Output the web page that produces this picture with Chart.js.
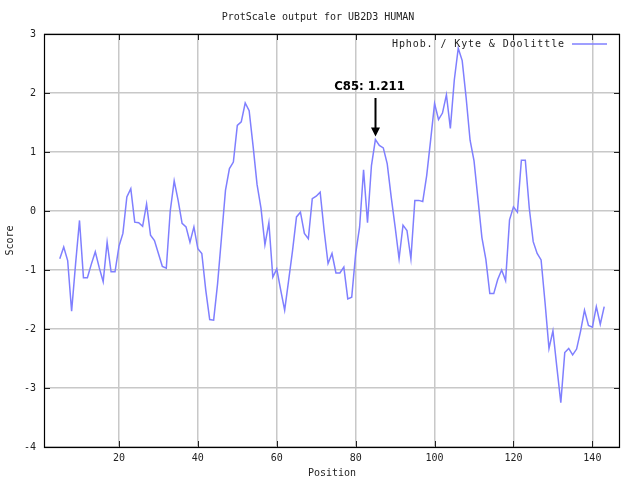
<!DOCTYPE html>
<html>
<head>
<meta charset="utf-8">
<title>ProtScale output for UB2D3 HUMAN</title>
<script src="https://cdn.jsdelivr.net/npm/chart.js@4/dist/chart.umd.min.js"></script>
<style>
  body { margin: 0; background: #fff; }
  canvas { display: block; }
</style>
</head>
<body>
<canvas id="myChart" width="639" height="483"></canvas>
<script>
const positions = [
  5, 6, 7, 8, 9, 10, 11, 12, 13, 14, 15, 16, 17, 18, 19, 20, 21, 22, 23, 24,
  25, 26, 27, 28, 29, 30, 31, 32, 33, 34, 35, 36, 37, 38, 39, 40, 41, 42, 43, 44,
  45, 46, 47, 48, 49, 50, 51, 52, 53, 54, 55, 56, 57, 58, 59, 60, 61, 62, 63, 64,
  65, 66, 67, 68, 69, 70, 71, 72, 73, 74, 75, 76, 77, 78, 79, 80, 81, 82, 83, 84,
  85, 86, 87, 88, 89, 90, 91, 92, 93, 94, 95, 96, 97, 98, 99, 100, 101, 102, 103, 104,
  105, 106, 107, 108, 109, 110, 111, 112, 113, 114, 115, 116, 117, 118, 119, 120, 121, 122, 123, 124,
  125, 126, 127, 128, 129, 130, 131, 132, 133, 134, 135, 136, 137, 138, 139, 140, 141, 142, 143
]

const scores = [
  -0.81, -0.61, -0.84, -1.70, -0.90, -0.16, -1.13, -1.13, -0.90, -0.69,
  -0.96, -1.20, -0.53, -1.03, -1.03, -0.60, -0.38, 0.24, 0.38, -0.19,
  -0.20, -0.26, 0.12, -0.41, -0.50, -0.72, -0.94, -0.97, 0.00, 0.51,
  0.18, -0.21, -0.27, -0.53, -0.27, -0.64, -0.72, -1.34, -1.84, -1.85,
  -1.23, -0.44, 0.35, 0.72, 0.83, 1.45, 1.51, 1.83, 1.70, 1.10,
  0.45, 0.05, -0.57, -0.20, -1.12, -0.98, -1.34, -1.68, -1.18, -0.67,
  -0.10, -0.02, -0.38, -0.47, 0.21, 0.25, 0.32, -0.33, -0.89, -0.72,
  -1.05, -1.05, -0.95, -1.49, -1.46, -0.72, -0.27, 0.70, -0.20, 0.77,
  1.211, 1.11, 1.07, 0.80, 0.24, -0.27, -0.81, -0.24, -0.33, -0.81,
  0.18, 0.18, 0.16, 0.60, 1.20, 1.82, 1.55, 1.66, 1.97, 1.40,
  2.22, 2.76, 2.55, 1.92, 1.20, 0.85, 0.20, -0.45, -0.82, -1.40,
  -1.40, -1.16, -1.00, -1.18, -0.15, 0.07, -0.02, 0.86, 0.86, 0.05,
  -0.52, -0.72, -0.83, -1.55, -2.33, -2.03, -2.65, -3.25, -2.40, -2.33,
  -2.44, -2.34, -2.04, -1.68, -1.94, -1.97, -1.62, -1.92, -1.62
]

const xTicks = [20, 40, 60, 80, 100, 120, 140]
const yTicks = [-4, -3, -2, -1, 0, 1, 2, 3]

const seriesName = 'Hphob. / Kyte & Doolittle'
const chartTitle = 'ProtScale output for UB2D3 HUMAN'
const markPosition = 85
const markLabel = 'C85: 1.211'

const monoFont = '"DejaVu Sans Mono", "Liberation Mono", monospace'
const lineColor = '#7f7fff'

// title, legend, inward ticks, frame and the C85 arrow
const overlay = {
  id: 'overlay',
  afterDraw(chart) {
    const ctx = chart.ctx
    const a = chart.chartArea
    const x = chart.scales.x
    const y = chart.scales.y
    ctx.save()

    ctx.strokeStyle = '#222'
    ctx.lineWidth = 1
    ctx.beginPath()
    xTicks.forEach(v => {
      let px = Math.round(x.getPixelForValue(v)) + 0.5
      ctx.moveTo(px, a.bottom); ctx.lineTo(px, a.bottom - 6)
      ctx.moveTo(px, a.top); ctx.lineTo(px, a.top + 6)
    })
    yTicks.forEach(v => {
      let py = Math.round(y.getPixelForValue(v)) + 0.5
      ctx.moveTo(a.left, py); ctx.lineTo(a.left + 6, py)
      ctx.moveTo(a.right, py); ctx.lineTo(a.right - 6, py)
    })
    ctx.stroke()

    ctx.strokeStyle = '#000'
    ctx.lineWidth = 1.2
    ctx.strokeRect(Math.round(a.left) + 0.5, Math.round(a.top) + 0.5,
      Math.round(a.right - a.left) - 1, Math.round(a.bottom - a.top))

    ctx.fillStyle = '#222'
    ctx.font = '10px ' + monoFont
    ctx.textAlign = 'center'
    ctx.textBaseline = 'middle'
    ctx.fillText(chartTitle, (a.left + a.right) / 2 - 14, 17)

    // legend inside the plot, top right
    if ('letterSpacing' in ctx) ctx.letterSpacing = '0.9px'
    ctx.textAlign = 'right'
    ctx.fillText(seriesName, 565, 44)
    if ('letterSpacing' in ctx) ctx.letterSpacing = '0px'
    ctx.strokeStyle = lineColor
    ctx.lineWidth = 1.5
    ctx.beginPath()
    ctx.moveTo(572, 44)
    ctx.lineTo(607, 44)
    ctx.stroke()

    // annotation
    let mx = Math.round(x.getPixelForValue(markPosition)) + 0.5
    let my = y.getPixelForValue(scores[positions.indexOf(markPosition)])
    ctx.fillStyle = '#000'
    ctx.font = 'bold 13px "DejaVu Sans Condensed", "DejaVu Sans", sans-serif'
    ctx.textAlign = 'center'
    ctx.textBaseline = 'alphabetic'
    ctx.fillText(markLabel, mx - 6, 90)
    ctx.strokeStyle = '#000'
    ctx.lineWidth = 2
    ctx.beginPath()
    ctx.moveTo(mx, 98)
    ctx.lineTo(mx, my - 10)
    ctx.stroke()
    ctx.beginPath()
    ctx.moveTo(mx - 4.5, my - 12)
    ctx.lineTo(mx + 4.5, my - 12)
    ctx.lineTo(mx, my - 3)
    ctx.closePath()
    ctx.fill()

    ctx.restore()
  }
}

let data = {
  datasets: [{
    label: seriesName,
    data: positions.map((p, i) => ({ x: p, y: scores[i] })),
    borderColor: lineColor,
    backgroundColor: lineColor,
    borderWidth: 1.5,
    pointRadius: 0,
    tension: 0,
    fill: false
  }]
}

let config = {
  type: 'line',
  data: data,
  plugins: [overlay],
  options: {
    responsive: false,
    animation: false,
    devicePixelRatio: 1,
    layout: {
      padding: { top: 34, right: 19, left: 0, bottom: 0 }
    },
    plugins: {
      legend: { display: false },
      title: { display: false },
      tooltip: { enabled: false }
    },
    scales: {
      x: {
        type: 'linear',
        min: 1,
        max: 147,
        afterBuildTicks: axis => { axis.ticks = xTicks.map(v => ({ value: v })) },
        afterFit: axis => { axis.height = 36 },
        grid: { color: '#c8c8c8', lineWidth: 1.5, drawTicks: false },
        border: { display: false },
        ticks: {
          padding: 5,
          maxRotation: 0,
          color: '#222',
          font: { family: monoFont, size: 10 }
        },
        title: {
          display: true,
          text: 'Position',
          color: '#222',
          padding: { top: 4, bottom: 4 },
          font: { family: monoFont, size: 10 }
        }
      },
      y: {
        type: 'linear',
        min: -4,
        max: 3,
        afterBuildTicks: axis => { axis.ticks = yTicks.map(v => ({ value: v })) },
        afterFit: axis => { axis.width = 44 },
        grid: { color: '#c8c8c8', lineWidth: 1.5, drawTicks: false },
        border: { display: false },
        ticks: {
          padding: 8,
          color: '#222',
          font: { family: monoFont, size: 10 }
        },
        title: {
          display: true,
          text: 'Score',
          color: '#222',
          padding: { top: 4, bottom: 4 },
          font: { family: monoFont, size: 10 }
        }
      }
    }
  }
}

let myChart = new Chart(document.getElementById('myChart'), config)
</script>
</body>
</html>
